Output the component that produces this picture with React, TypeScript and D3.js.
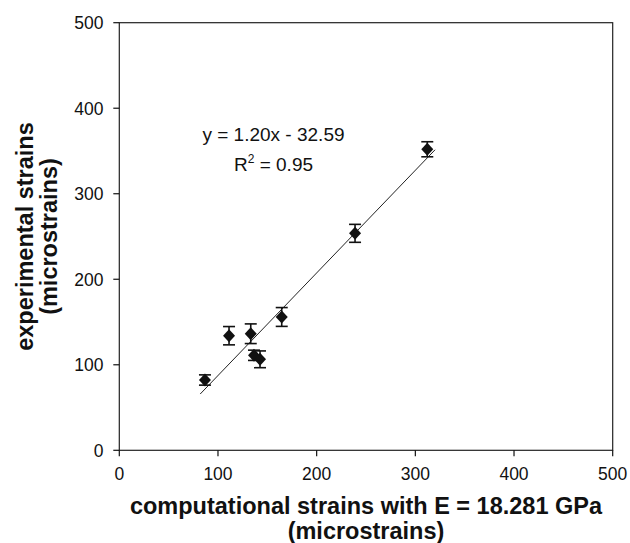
import React from "react";
import * as d3 from "d3";

const xValues = [86.8, 111.2, 133.2, 136.5, 142.6, 164.6, 238.9, 312.1];
const yValues = [82.2, 134.0, 136.3, 111.1, 106.4, 155.9, 253.7, 352.0];
const yErrors = [6.0, 10.7, 11.5, 6.0, 9.8, 11.0, 10.5, 8.8];
const xTicks = [0, 100, 200, 300, 400, 500];
const yTicks = [0, 100, 200, 300, 400, 500];
const trendSlope = 1.2;
const trendIntercept = -32.59;
const trendX = [82, 320];
const equationLines = ["y = 1.20x - 32.59"];
const xTitleLines = ["computational strains with E = 18.281 GPa", "(microstrains)"];
const yTitleLines = ["experimental strains", "(microstrains)"];

const W = 630;
const H = 543;
const FONT = "'Liberation Sans', Arial, Helvetica, sans-serif";

export default function App() {
  const x = d3.scaleLinear().domain([0, 500]).range([119.3, 612.7]);
  const y = d3.scaleLinear().domain([0, 500]).range([450.3, 22.7]);
  const line = d3
    .line<number>()
    .x((d) => x(d))
    .y((d) => y(trendSlope * d + trendIntercept));
  const dw = 6;
  const dh = 6.5;
  const cap = 6;
  return (
    <svg
      width={W}
      height={H}
      style={{ position: "absolute", left: 0, top: 0, background: "#fff" }}
      fontFamily={FONT}
    >
      <rect x={0} y={0} width={W} height={H} fill="#fff" />
      <rect
        x={x(0)}
        y={y(500)}
        width={x(500) - x(0)}
        height={y(0) - y(500)}
        fill="none"
        stroke="#222"
        strokeWidth={1.2}
      />
      {yTicks.map((t) => (
        <g key={"y" + t}>
          <line x1={x(0) - 6} x2={x(0)} y1={y(t)} y2={y(t)} stroke="#111" strokeWidth={1.2} />
          <text x={103.5} y={y(t)} dy="0.36em" textAnchor="end" fontSize={17.5} fill="#111">
            {t}
          </text>
        </g>
      ))}
      {xTicks.map((t) => (
        <g key={"x" + t}>
          <line x1={x(t)} x2={x(t)} y1={y(0)} y2={y(0) + 6} stroke="#111" strokeWidth={1.2} />
          <text x={x(t)} y={480} textAnchor="middle" fontSize={17.5} fill="#111">
            {t}
          </text>
        </g>
      ))}
      <path d={line(trendX) || ""} fill="none" stroke="#222" strokeWidth={1} />
      {xValues.map((xv, i) => {
        const cx = x(xv);
        const top = y(yValues[i] + yErrors[i]);
        const bot = y(yValues[i] - yErrors[i]);
        return (
          <g key={"e" + i} stroke="#111" strokeWidth={1.6}>
            <line x1={cx} x2={cx} y1={top} y2={bot} />
            <line x1={cx - cap} x2={cx + cap} y1={top} y2={top} />
            <line x1={cx - cap} x2={cx + cap} y1={bot} y2={bot} />
          </g>
        );
      })}
      {xValues.map((xv, i) => {
        const cx = x(xv);
        const cy = y(yValues[i]);
        return (
          <path
            key={"m" + i}
            d={`M${cx},${cy - dh}L${cx + dw},${cy}L${cx},${cy + dh}L${cx - dw},${cy}Z`}
            fill="#111"
          />
        );
      })}
      <text x={273.5} y={141} textAnchor="middle" fontSize={19} fill="#111">
        {equationLines[0]}
      </text>
      <text x={273.5} y={171} textAnchor="middle" fontSize={19} fill="#111">
        R<tspan dy={-8} fontSize={12}>2</tspan>
        <tspan dy={8}> = 0.95</tspan>
      </text>
      {xTitleLines.map((s, i) => (
        <text
          key={"xt" + i}
          x={366}
          y={514 + i * 25}
          textAnchor="middle"
          fontSize={23.5}
          fontWeight="bold"
          fill="#111"
        >
          {s}
        </text>
      ))}
      {yTitleLines.map((s, i) => (
        <text
          key={"yt" + i}
          transform={`translate(${33 + i * 24},236.5) rotate(-90)`}
          textAnchor="middle"
          fontSize={23.5}
          fontWeight="bold"
          fill="#111"
        >
          {s}
        </text>
      ))}
    </svg>
  );
}
